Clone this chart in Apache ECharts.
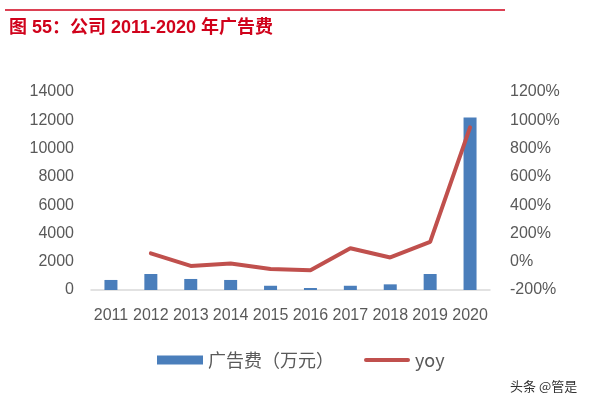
<!DOCTYPE html>
<html>
<head>
<meta charset="utf-8">
<style>
  html, body { margin: 0; padding: 0; background: #fff; }
  #chart { width: 600px; height: 407px; }
</style>
<script src="https://cdn.jsdelivr.net/npm/echarts@6/dist/echarts.min.js"></script>
</head>
<body>
<div id="chart"></div>
<script>
const years = ['2011', '2012', '2013', '2014', '2015', '2016', '2017', '2018', '2019', '2020'];
// 广告费（万元）
const adCost = [710, 1130, 780, 710, 300, 140, 300, 400, 1130, 12200];
// yoy (%)
const yoy = [null, 59, -30, -12, -52, -60, 95, 30, 140, 950];

const chart = echarts.init(document.getElementById('chart'));
const labelColor = '#595959';
const labelFont = '"Liberation Sans", Arial, sans-serif';
// thin rounded bar inside a 46x9 box for the line legend
const lineIcon = 'path://M0,0 M46,9 M2,2.5 L44,2.5 A2,2 0 0 1 44,6.5 L2,6.5 A2,2 0 0 1 2,2.5 Z';

const option = {
    animation: false,
    textStyle: { fontFamily: labelFont },
    graphic: [
        {
            type: 'line',
            shape: { x1: 5, y1: 10, x2: 505, y2: 10 },
            style: { stroke: '#d0021b', lineWidth: 1.5 }
        },
        {
            type: 'text',
            left: 9,
            top: 19,
            style: {
                text: '图 55：公司 2011-2020 年广告费',
                fill: '#d0021b',
                font: 'bold 18px "Liberation Sans", "Noto Sans CJK SC", sans-serif'
            }
        },
        {
            type: 'text',
            left: 510,
            top: 380,
            style: {
                text: '头条 @管是',
                fill: '#333',
                font: '13px "Noto Sans CJK SC", sans-serif'
            }
        }
    ],
    legend: {
        bottom: 33,
        left: 152,
        itemGap: 30,
        itemWidth: 46,
        itemHeight: 9,
        textStyle: {
            color: labelColor,
            fontSize: 18,
            fontFamily: '"Noto Sans CJK SC", sans-serif'
        },
        data: [
            { name: '广告费（万元）', icon: 'rect' },
            { name: 'yoy', icon: lineIcon }
        ]
    },
    grid: {
        left: 91,
        right: 110,
        top: 92,
        bottom: 117
    },
    xAxis: {
        type: 'category',
        data: years,
        axisLine: { lineStyle: { color: '#d9d9d9', width: 1.5 } },
        axisTick: { show: false },
        axisLabel: {
            color: labelColor,
            fontSize: 16,
            margin: 18,
            interval: 0
        }
    },
    yAxis: [
        {
            type: 'value',
            min: 0,
            max: 14000,
            interval: 2000,
            axisLine: { show: false },
            axisTick: { show: false },
            splitLine: { show: false },
            axisLabel: {
                color: labelColor,
                fontSize: 16,
                margin: 17,
                formatter: v => String(v)
            }
        },
        {
            type: 'value',
            min: -200,
            max: 1200,
            interval: 200,
            axisLine: { show: false },
            axisTick: { show: false },
            splitLine: { show: false },
            axisLabel: {
                color: labelColor,
                fontSize: 16,
                margin: 20,
                formatter: v => v + '%'
            }
        }
    ],
    series: [
        {
            name: '广告费（万元）',
            type: 'bar',
            data: adCost,
            barWidth: 13,
            itemStyle: { color: '#4a7ebb' }
        },
        {
            name: 'yoy',
            type: 'line',
            yAxisIndex: 1,
            data: yoy,
            showSymbol: false,
            symbol: 'none',
            lineStyle: { color: '#c0504d', width: 4, cap: 'round' },
            itemStyle: { color: '#c0504d' }
        }
    ]
};

chart.setOption(option);
</script>
</body>
</html>
